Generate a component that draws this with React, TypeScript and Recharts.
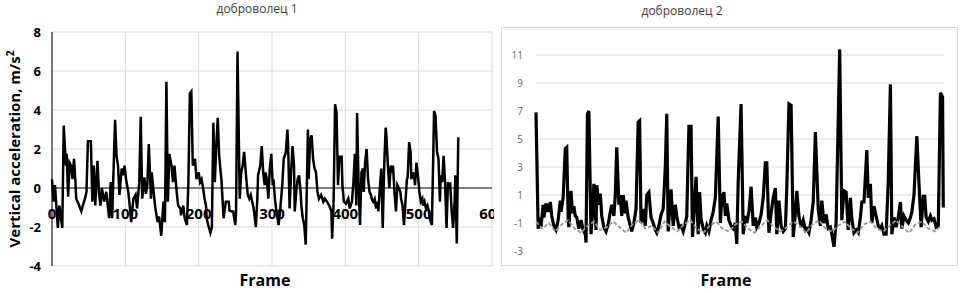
import { LineChart, Line, XAxis, YAxis, CartesianGrid, ReferenceLine } from "recharts";

// volunteer 1 (frames, vertical acceleration m/s2)
const FRAMES_1 = [
  0, 2, 4, 8, 10, 14, 16, 19, 20, 22, 24, 26, 28, 30, 32, 33, 36, 40, 42, 45, 47, 49, 53, 55, 57, 59,
  62, 64, 66, 68, 71, 74, 76, 78, 80, 82, 86, 88, 90, 92, 95, 97, 99, 101, 104, 106, 108, 111, 114,
  116, 119, 121, 123, 126, 128, 130, 132, 135, 136, 139, 141, 144, 146, 149, 152, 154, 156, 158, 160,
  163, 165, 167, 170, 172, 175, 176, 179, 181, 184, 186, 188, 190, 192, 195, 197, 200, 202, 204, 206,
  208, 210, 211, 213, 216, 218, 220, 222, 224, 226, 228, 230, 231, 234, 237, 241, 242, 245, 247, 250,
  251, 253, 256, 258, 260, 262, 265, 267, 269, 271, 273, 275, 278, 280, 281, 284, 286, 288, 290, 291,
  293, 295, 297, 299, 301, 302, 304, 306, 309, 311, 314, 316, 319, 321, 322, 324, 326, 328, 330, 331,
  333, 335, 337, 339, 340, 342, 344, 346, 349, 350, 352, 354, 356, 358, 360, 362, 364, 367, 370, 372,
  375, 378, 381, 382, 384, 386, 388, 390, 392, 395, 396, 398, 401, 404, 406, 409, 411, 413, 415, 416,
  418, 420, 422, 424, 425, 427, 429, 431, 433, 435, 436, 438, 440, 442, 444, 445, 447, 449, 451, 453,
  455, 456, 458, 460, 462, 464, 465, 467, 469, 471, 473, 475, 476, 478, 480, 482, 484, 485, 487, 489,
  490, 492, 494, 495, 497, 499, 501, 503, 505, 506, 508, 510, 512, 514, 515, 518, 520, 521, 523, 525,
  527, 529, 530, 532, 534, 536, 538, 540, 541, 543, 545, 547, 549, 550, 552, 554,
];
const ACC_1 = [
  0.45, -0.7, 0.15, -2.05, -0.9, -2.05, 3.2, 1.15, 1.75, -0.45, 1.3, 1.15, 0.45, 1.5, 0.3, -0.55, -0.8,
  -1.2, -0.9, -0.55, -0.2, 2.4, 2.4, -0.7, 1.15, -0.9, 1.4, -0.2, -0.9, 0, -0.7, -0.2, -0.9, -1.55, 0.3,
  -1.55, 3.5, 1.65, 1.15, -0.35, 1.0, 0.65, 1.15, 0.45, -0.2, -0.9, -1.75, -0.55, -0.35, -1.05, 0.3,
  3.65, -0.55, 0.55, -0.3, 0.15, 2.25, -0.55, 0.8, -0.35, -1.05, -1.75, -1.45, -2.45, -0.7, -1.75,
  5.45, -0.7, 1.75, 1.15, 0.3, 1.15, -0.2, -0.9, -1.05, -1.4, -0.9, -1.55, -1.9, 0.3, 4.85, 4.95, 1.15,
  1.5, 0.45, 0.8, 0.3, 0.45, 0, -0.55, -0.9, -1.55, -1.9, -2.3, -2.0, 3.35, 0.3, 2.15, 3.6, 1.65, 0.8,
  0.45, -1.55, -0.7, -0.7, -1.15, -1.2, -1.2, -1.9, -1.2, 7.0, -0.55, 0.8, 1.15, 1.85, 0.45, -0.35,
  -0.55, -0.35, -0.7, -1.05, -2.0, -0.55, 0.65, 1.15, 2.15, 0.8, 0.15, 0.8, 0.45, -0.55, 1.0, 1.75,
  0.15, 0.45, -0.55, -1.2, -1.9, -1.2, 0.15, 1.5, 1.85, 3.0, 2.15, -1.05, 0.8, 2.15, 1.15, -1.2, -0.2,
  0.45, 0.65, -0.2, -0.9, -1.55, -1.9, -2.9, 3.0, 0.45, 2.5, 2.7, 1.5, 1.0, 0.8, -0.2, -0.55, -0.35,
  -0.7, -0.55, -0.7, -0.9, -1.2, -2.6, -0.7, 4.3, 3.85, 0.15, 1.6, 1.6, 0.15, -0.7, -0.8, -0.55, -1.05,
  -0.7, 0.3, 1.75, -0.9, 3.85, 0.3, -1.9, 0.8, 1.0, -0.2, 1.3, 2.0, 0.45, -0.2, -0.35, -0.55, -0.7,
  -0.55, -1.05, -0.7, -1.2, 0, 1.0, -2.05, 1.15, 3.1, 2.7, 1.15, 0, 1.15, 0.8, 1.15, -0.2, -1.2, 0.15,
  0, -0.2, -0.55, -0.9, -1.9, -0.7, 0.45, 0.55, 2.35, 1.85, 0.45, 0.8, 0.55, 0.15, 1.3, 0.65, -0.2,
  -0.7, -0.55, -0.9, -0.7, -1.05, -0.9, -1.2, -1.55, -1.9, 1.85, 3.95, 3.7, 1.85, 1.5, -0.7, 0.65, 0.3,
  1.65, 0.3, -2.05, 0.3, 0.15, 0.2, -1.2, -2.05, -0.7, 0.65, -2.85, 2.6,
];
const X_TICKS_1 = [0, 100, 200, 300, 400, 500, 600];
const Y_TICKS_1 = [-4, -2, 0, 2, 4, 6, 8];

// volunteer 2
const FRAMES_2 = [
  0, 3, 6, 7, 10, 11, 14, 17, 20, 22, 25, 28, 31, 34, 35, 38, 41, 43, 45, 46, 49, 51, 53, 55, 57, 60,
  63, 66, 69, 70, 72, 74, 77, 80, 81, 84, 85, 88, 90, 92, 95, 98, 101, 104, 106, 109, 111, 113, 116,
  118, 120, 122, 125, 126, 129, 132, 134, 137, 140, 143, 145, 147, 150, 153, 155, 158, 161, 164, 167,
  169, 172, 175, 178, 181, 183, 185, 186, 189, 192, 195, 197, 200, 203, 206, 209, 211, 214, 217, 219,
  221, 224, 227, 229, 231, 234, 237, 239, 242, 245, 248, 251, 255, 258, 260, 263, 265, 267, 270, 273,
  276, 279, 281, 283, 287, 290, 293, 295, 298, 301, 304, 307, 309, 312, 315, 318, 321, 323, 326, 329,
  332, 335, 337, 340, 343, 346, 349, 351, 354, 357, 360, 363, 365, 368, 371, 374, 377, 379, 382, 385,
  388, 391, 395, 398, 400, 403, 406, 409, 412, 414, 417, 420, 425, 428, 431, 434, 437, 440, 442, 445,
  448, 451, 454, 456, 459, 463, 465, 468, 470, 473, 476, 479, 482, 484, 487, 490, 493, 496, 498, 501,
  504, 507, 510, 512, 515, 518, 521, 524, 526, 529, 533, 536, 539, 542, 544, 546, 549, 552, 554, 557,
  560, 563, 566, 569, 570,
];
const ACC_2 = [
  6.9, -1.4, -0.6, -1.3, 0.3, -0.6, 0.4, -0.2, 0.5, -0.5, -1.2, -1.5, -0.8, 0.6, -0.2, 0.8, 4.3, 4.4,
  -0.6, -1.3, 1.3, -0.3, 0.2, -0.5, -0.6, -1.4, -0.8, -1.5, -1.8, -2.4, 6.8, 7.0, -1.8, 0.5, 1.8, -1.5,
  1.7, 0.3, 1.1, -0.5, -1.3, -1.6, -1.1, -0.2, 0.3, -0.5, 1.0, 4.4, 0.3, 1.0, -0.5, 1.0, -0.3, 0.6,
  -0.6, -1.2, -1.6, -1.0, 0.0, 6.2, 6.3, -1.0, 0.0, -1.2, 1.0, 1.2, -0.6, -1.0, -1.5, -1.7, -1.2, -0.4,
  0.0, 3.0, 6.8, -1.6, -0.8, 1.4, -1.2, 0.3, -0.5, -1.3, -1.2, -1.6, -1.0, -0.5, 5.9, 5.9, -2.0, -0.5,
  2.3, -1.8, 1.2, -0.7, -1.4, -1.7, -1.2, -1.6, -0.8, -0.2, 0.8, 6.6, -1.0, 0.8, 1.2, -0.5, 0.4, -0.8,
  -1.2, -1.4, -1.0, -2.5, 2.0, 7.5, -1.8, -0.5, -1.0, -0.2, 1.6, -1.2, -0.6, -1.3, -1.0, -0.4, 0.8, 3.3,
  3.3, -1.7, -0.3, 0.8, 1.5, -1.8, 0.6, -1.2, -1.6, -1.4, 1.5, 7.5, 7.4, -2.0, -0.3, 1.3, -0.5, -1.3,
  -0.8, -1.5, -1.4, -1.7, -0.8, 0.5, 5.5, 0.0, -1.2, 0.6, -1.0, -0.4, -1.4, -1.3, -1.8, -2.7, -1.0,
  11.4, -0.8, 1.3, 1.2, -1.5, 0.8, -0.7, -1.7, -1.5, -1.7, -0.6, 0.5, 0.5, 4.2, 0.8, 1.8, -1.0, 0.2,
  -0.5, -1.2, -1.4, -1.2, -1.8, -1.8, 2.0, 8.9, -1.8, -0.6, -1.3, -0.6, 0.5, -1.4, -0.5, -0.8, -1.0,
  -0.6, -0.2, 1.0, 5.2, 1.8, -1.3, 0.9, 0.9, -0.6, -0.9, -0.5, -0.8, -0.7, -1.3, -1.2, 8.3, 8.0, 0.1,
];
const GRAY_FRAMES_2 = [
  0, 9, 18, 27, 36, 45, 54, 63, 72, 81, 90, 99, 108, 117, 126, 135, 144, 153, 162, 171, 180, 189, 198,
  207, 216, 225, 234, 243, 252, 261, 270, 279, 288, 297, 306, 315, 324, 333, 342, 351, 360, 369, 378,
  387, 396, 405, 414, 423, 432, 441, 450, 459, 468, 477, 486, 495, 504, 513, 522, 531, 540, 549, 558,
  567,
];
const GRAY_ACC_2 = [
  -0.9, -1.4, -1.0, -1.6, -1.1, -0.8, -1.4, -1.7, -1.2, -0.9, -1.5, -1.3, -0.9, -1.3, -1.7, -1.1, -0.8,
  -1.4, -1.2, -1.7, -0.9, -1.3, -1.6, -1.1, -0.8, -1.4, -1.7, -1.2, -0.9, -1.4, -1.6, -1.1, -0.9, -1.4,
  -1.7, -1.2, -0.8, -1.3, -1.6, -1.3, -0.9, -1.2, -1.7, -1.1, -0.8, -1.4, -1.6, -1.2, -0.9, -1.4, -1.7,
  -1.1, -0.9, -1.4, -1.6, -1.2, -0.8, -1.3, -1.7, -1.1, -0.9, -1.4, -1.6, -1.2,
];
const Y_TICKS_2 = [-3, -1, 1, 3, 5, 7, 9, 11];
const GRID_2 = [1, 3, 5, 9, 11];

const TITLES = ["доброволец 1", "доброволец 2"];
const X_LABEL = "Frame";
const Y_LABEL = "Vertical acceleration, m/s";

const series1 = FRAMES_1.map((f, i) => ({ f, v: ACC_1[i] }));
const series2 = FRAMES_2.map((f, i) => ({ f, v: ACC_2[i] }));
const gray2 = GRAY_FRAMES_2.map((f, i) => ({ f, v: GRAY_ACC_2[i] }));

const FONT = "'Open Sans', sans-serif";

function FrameTick(props: any) {
  const { x, y, payload } = props;
  return (
    <text x={x} y={y - 55} textAnchor="middle" fontSize={15} fontWeight={700} fill="#000" fontFamily={FONT}>
      {payload.value}
    </text>
  );
}

export default function App() {
  return (
    <div style={{ position: "fixed", left: 0, top: 0, width: 960, height: 293, background: "#fff", fontFamily: FONT }}>
      <div style={{ position: "absolute", left: 0, top: 0 }}>
        <LineChart width={494} height={293} data={series1} margin={{ top: 32, right: 2, bottom: 0, left: 0 }}>
          <CartesianGrid stroke="#d9d9d9" strokeWidth={1} />
          <XAxis
            dataKey="f"
            type="number"
            domain={[0, 600]}
            ticks={X_TICKS_1}
            height={27}
            axisLine={false}
            tickLine={false}
            tick={<FrameTick />}
            interval={0}
          />
          <YAxis
            type="number"
            domain={[-4, 8]}
            ticks={Y_TICKS_1}
            width={52}
            axisLine={{ stroke: "#000", strokeWidth: 1 }}
            tickLine={false}
            tickSize={0}
            tickMargin={11}
            tick={{ fill: "#000", fontSize: 13, fontWeight: 700, fontFamily: FONT }}
          />
          <ReferenceLine y={0} stroke="#7f7f7f" strokeWidth={2} />
          <Line dataKey="v" stroke="#000" strokeWidth={2.5} dot={false} isAnimationActive={false} />
        </LineChart>
      </div>

      <div
        style={{
          position: "absolute",
          left: 501,
          top: 27,
          width: 457,
          height: 239,
          border: "1px solid #d9d9d9",
          boxSizing: "border-box",
        }}
      />
      <div style={{ position: "absolute", left: 501, top: 27 }}>
        <LineChart width={457} height={238} margin={{ top: 0, right: 14, bottom: 0, left: 0 }}>
          <XAxis dataKey="f" type="number" domain={[0, 571]} hide />
          <YAxis
            type="number"
            domain={[-4, 13]}
            ticks={Y_TICKS_2}
            width={35}
            axisLine={false}
            tickLine={false}
            tickSize={0}
            tickMargin={13}
            tick={{ fill: "#666", fontSize: 10, fontFamily: FONT }}
          />
          {GRID_2.map((g) => (
            <ReferenceLine key={g} y={g} stroke="#d9d9d9" strokeWidth={1} />
          ))}
          <Line data={series2} dataKey="v" stroke="#000" strokeWidth={3.2} dot={false} isAnimationActive={false} />
          <Line
            data={gray2}
            dataKey="v"
            stroke="#999"
            strokeWidth={1.8}
            strokeDasharray="4 2"
            dot={false}
            isAnimationActive={false}
          />
        </LineChart>
      </div>

      <svg width={960} height={293} style={{ position: "absolute", left: 0, top: 0, pointerEvents: "none" }}>
        <text x={257} y={12.5} textAnchor="middle" fontSize={12} fill="#404040" fontFamily={FONT}>
          {TITLES[0]}
        </text>
        <text x={682} y={15} textAnchor="middle" fontSize={12} fill="#404040" fontFamily={FONT}>
          {TITLES[1]}
        </text>
        <text x={265} y={286} textAnchor="middle" fontSize={16} fontWeight={700} fill="#000" fontFamily={FONT}>
          {X_LABEL}
        </text>
        <text x={726} y={286} textAnchor="middle" fontSize={16} fontWeight={700} fill="#000" fontFamily={FONT}>
          {X_LABEL}
        </text>
        <text
          transform="translate(19.5,149) rotate(-90)"
          textAnchor="middle"
          fontSize={15}
          fontWeight={700}
          fill="#000"
          fontFamily={FONT}
        >
          {Y_LABEL}
          <tspan dy={-6} fontSize={10}>
            2
          </tspan>
        </text>
      </svg>
    </div>
  );
}
